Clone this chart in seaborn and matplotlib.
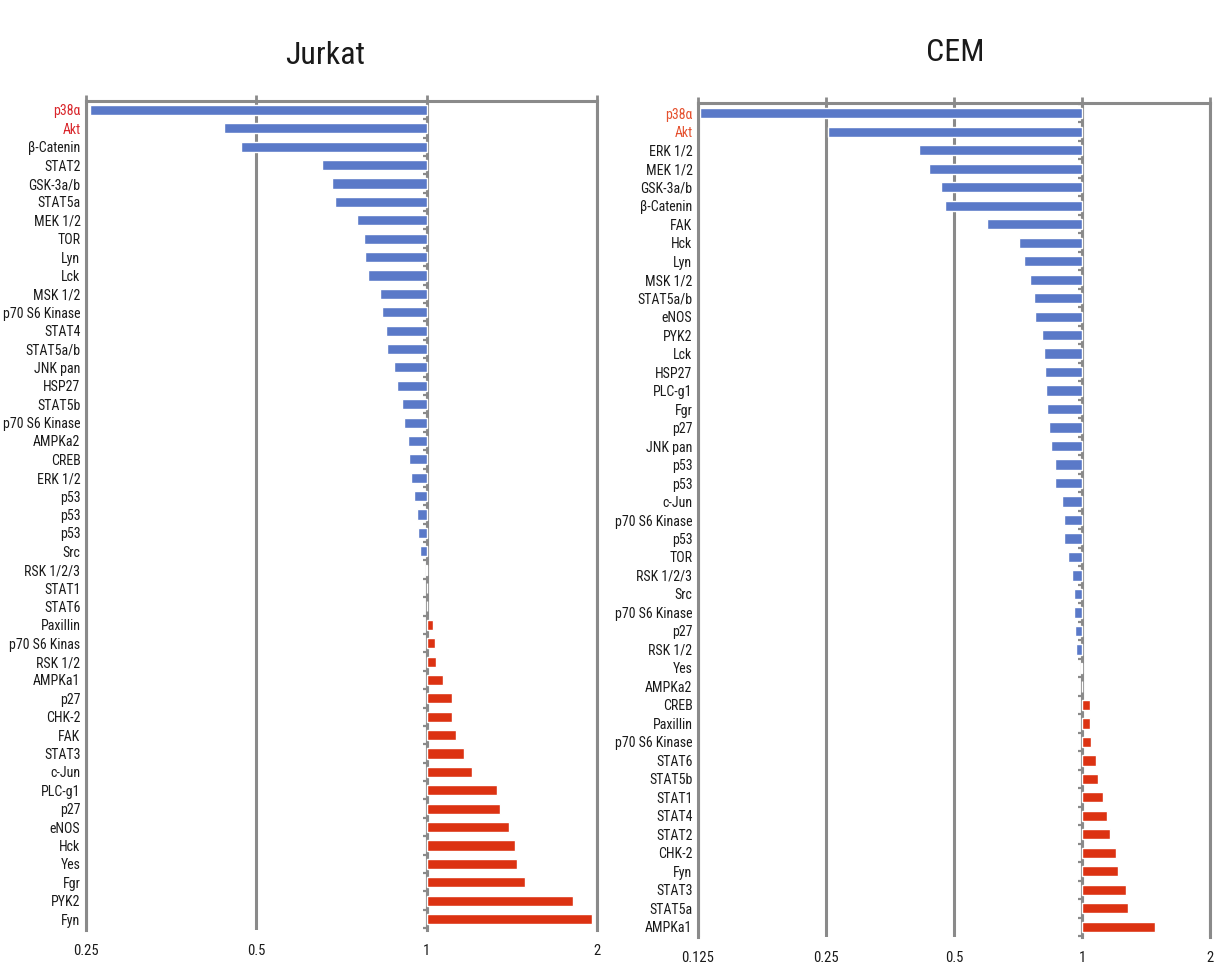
import numpy as np
import pandas as pd
import matplotlib
matplotlib.use("Agg")
import matplotlib.pyplot as plt
import seaborn as sns
from matplotlib import font_manager
from matplotlib.ticker import FixedLocator, NullFormatter

# Fold change of phosphorylation (treated / control), one row per antibody spot
jurkat_labels = [
    "p38α", "Akt", "β-Catenin", "STAT2", "GSK-3a/b", "STAT5a", "MEK 1/2", "TOR",
    "Lyn", "Lck", "MSK 1/2", "p70 S6 Kinase", "STAT4", "STAT5a/b", "JNK pan",
    "HSP27", "STAT5b", "p70 S6 Kinase", "AMPKa2", "CREB", "ERK 1/2", "p53", "p53",
    "p53", "Src", "RSK 1/2/3", "STAT1", "STAT6", "Paxillin", "p70 S6 Kinas",
    "RSK 1/2", "AMPKa1", "p27", "CHK-2", "FAK", "STAT3", "c-Jun", "PLC-g1", "p27",
    "eNOS", "Hck", "Yes", "Fgr", "PYK2", "Fyn",
]
jurkat_fold = [
    0.254, 0.438, 0.470, 0.652, 0.679, 0.688, 0.752, 0.776,
    0.778, 0.787, 0.828, 0.833, 0.847, 0.851, 0.875,
    0.886, 0.903, 0.911, 0.925, 0.929, 0.937, 0.951, 0.963,
    0.967, 0.974, 0.996, 1.0, 1.0, 1.024, 1.033,
    1.037, 1.070, 1.110, 1.110, 1.126, 1.166, 1.203, 1.332, 1.345,
    1.396, 1.430, 1.442, 1.489, 1.810, 1.958,
]

cem_labels = [
    "p38α", "Akt", "ERK 1/2", "MEK 1/2", "GSK-3a/b", "β-Catenin", "FAK", "Hck",
    "Lyn", "MSK 1/2", "STAT5a/b", "eNOS", "PYK2", "Lck", "HSP27", "PLC-g1", "Fgr",
    "p27", "JNK pan", "p53", "p53", "c-Jun", "p70 S6 Kinase", "p53", "TOR",
    "RSK 1/2/3", "Src", "p70 S6 Kinase", "p27", "RSK 1/2", "Yes", "AMPKa2", "CREB",
    "Paxillin", "p70 S6 Kinase", "STAT6", "STAT5b", "STAT1", "STAT4", "STAT2",
    "CHK-2", "Fyn", "STAT3", "STAT5a", "AMPKa1",
]
cem_fold = [
    0.126, 0.252, 0.413, 0.436, 0.467, 0.475, 0.598, 0.711,
    0.731, 0.754, 0.772, 0.775, 0.807, 0.813, 0.817, 0.824, 0.829,
    0.837, 0.846, 0.862, 0.862, 0.897, 0.905, 0.905, 0.926,
    0.945, 0.955, 0.957, 0.961, 0.969, 0.995, 1.0, 1.042,
    1.042, 1.047, 1.080, 1.092, 1.119, 1.143, 1.165,
    1.202, 1.214, 1.268, 1.279, 1.487,
]

jurkat_ticks = [0.25, 0.5, 1, 2]
jurkat_tick_text = ["0.25", "0.5", "1", "2"]
cem_ticks = [0.125, 0.25, 0.5, 1, 2]
cem_tick_text = ["0.125", "0.25", "0.5", "1", "2"]

highlighted = ["p38α", "Akt"]

BLUE = "#5A79C8"
RED = "#DC3212"
GREY = "#8A8A8A"
TEXT = "#1A1A1A"


def first_installed(names):
    for name in names:
        try:
            font_manager.findfont(font_manager.FontProperties(family=name),
                                  fallback_to_default=False)
            return name
        except ValueError:
            continue
    return None


# prefer a condensed face; otherwise an Arial-metric face at a smaller size
narrow = first_installed(["Liberation Sans Narrow", "Arial Narrow",
                          "Roboto Condensed", "Open Sans Condensed"])
if narrow:
    family, label_size, title_size = narrow, 10, 23
else:
    family, label_size, title_size = "Liberation Sans", 8.8, 22

sns.set_theme(style="white")
plt.rcParams["font.family"] = [family, "DejaVu Sans"]

fig = plt.figure(figsize=(12.14, 9.69), dpi=100)

panels = [
    dict(title="Jurkat", labels=jurkat_labels, fold=jurkat_fold,
         ticks=jurkat_ticks, tick_text=jurkat_tick_text,
         rect=[0.0708, 0.0402, 0.4210, 0.8556], title_xy=(0.268, 0.943),
         hl_color="#D9262B", ypad=(0.6, 0.49)),
    dict(title="CEM", labels=cem_labels, fold=cem_fold,
         ticks=cem_ticks, tick_text=cem_tick_text,
         rect=[0.5750, 0.0330, 0.4218, 0.8607], title_xy=(0.787, 0.946),
         hl_color="#E5512F", ypad=(0.55, 0.55)),
]

for p in panels:
    fold = np.asarray(p["fold"], dtype=float)
    n = len(fold)
    df = pd.DataFrame({
        "row": np.arange(n).astype(str),
        "log2fc": np.log2(fold),
        "direction": np.where(fold >= 1, "up", "down"),
    })
    ax = fig.add_axes(p["rect"])
    sns.barplot(data=df, x="log2fc", y="row", hue="direction",
                palette={"down": BLUE, "up": RED}, order=df["row"],
                dodge=False, width=0.55, orient="h", saturation=1,
                legend=False, ax=ax)

    lo, hi = np.log2(p["ticks"][0]), np.log2(p["ticks"][-1])
    ax.set_xlim(lo, hi)
    ax.set_ylim(n - 1 + p["ypad"][0], -p["ypad"][1])
    ax.set_xticks(np.log2(p["ticks"]))
    ax.set_xticklabels(p["tick_text"])
    ax.set_yticks(np.arange(n))
    ax.set_yticklabels(p["labels"])
    ax.set_xlabel("")
    ax.set_ylabel("")

    ax.grid(axis="x", color=GREY, linewidth=2.2)
    ax.grid(axis="y", visible=False)
    ax.set_axisbelow(True)
    for side in ("top", "left", "right"):
        ax.spines[side].set_visible(True)
        ax.spines[side].set_color(GREY)
        ax.spines[side].set_linewidth(2.2)
    ax.spines["bottom"].set_visible(False)

    ax.tick_params(axis="x", top=True, bottom=False, labeltop=False,
                   labelbottom=True, direction="out", length=4, width=2,
                   color=GREY, labelsize=label_size + 0.5, labelcolor=TEXT,
                   pad=6)
    ax.tick_params(axis="y", left=False, length=0, pad=4,
                   labelsize=label_size, labelcolor=TEXT)
    for lab in ax.get_yticklabels():
        if lab.get_text() in highlighted:
            lab.set_color(p["hl_color"])

    # category axis drawn at fold change = 1, with small ticks between rows
    loc = (0 - lo) / (hi - lo)
    sec = ax.secondary_yaxis(loc)
    sec.set_alignment("left")
    sec.spines["left"].set_color(GREY)
    sec.spines["left"].set_linewidth(2.2)
    sec.yaxis.set_major_locator(FixedLocator(np.arange(n + 1) - 0.5))
    sec.yaxis.set_major_formatter(NullFormatter())
    sec.tick_params(axis="y", left=True, right=False, direction="out",
                    length=3, width=1.6, color=GREY)

    fig.text(p["title_xy"][0], p["title_xy"][1], p["title"], ha="center",
             va="center", fontsize=title_size, color=TEXT)

fig.savefig("out.png", dpi=100, facecolor="white")
